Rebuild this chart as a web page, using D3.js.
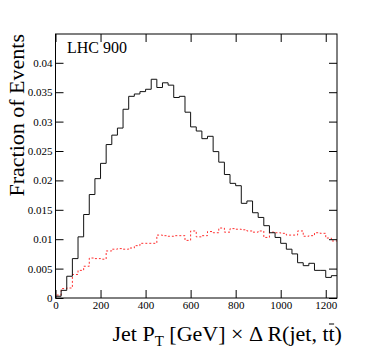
<!DOCTYPE html>
<html>
<head>
<meta charset="utf-8">
<script src="https://cdn.jsdelivr.net/npm/d3@7"></script>
<style>
  body { margin: 0; background: #fff; }
  text { font-family: "Liberation Serif", "Times New Roman", serif; }
</style>
</head>
<body>
<svg id="chart" width="374" height="351"></svg>
<script>
// histogram contents, 25 GeV bins from 0 to 1250
var binWidth = 25;
var seriesBlack = [0.0003, 0.0013, 0.0037, 0.0067, 0.0104, 0.0142, 0.0176, 0.0203, 0.0229, 0.0261,
                   0.0277, 0.0289, 0.0321, 0.0343, 0.0347, 0.0351, 0.0355, 0.0372, 0.0358, 0.0366,
                   0.0362, 0.0341, 0.0343, 0.0316, 0.0291, 0.0284, 0.0271, 0.0275, 0.0249, 0.0231,
                   0.0210, 0.0195, 0.0191, 0.0161, 0.0165, 0.0145, 0.0137, 0.0123, 0.0111, 0.0103,
                   0.0093, 0.0083, 0.0075, 0.0060, 0.0055, 0.0059, 0.0047, 0.0047, 0.0035, 0.0038];
var seriesRed = [0.0005, 0.0016, 0.0017, 0.0040, 0.0047, 0.0054, 0.0068, 0.0067, 0.0066, 0.0080,
                 0.0083, 0.0084, 0.0083, 0.0085, 0.0089, 0.0093, 0.0093, 0.0093, 0.0107, 0.0106,
                 0.0105, 0.0106, 0.0106, 0.0098, 0.0114, 0.0104, 0.0106, 0.0113, 0.0111, 0.0119,
                 0.0112, 0.0118, 0.0117, 0.0116, 0.0114, 0.0112, 0.0114, 0.0103, 0.0112, 0.0111,
                 0.0110, 0.0107, 0.0107, 0.0114, 0.0105, 0.0106, 0.0111, 0.0110, 0.0102, 0.0097];
var xTicks = [0, 200, 400, 600, 800, 1000, 1200];
var yTicks = [0, 0.005, 0.01, 0.015, 0.02, 0.025, 0.03, 0.035, 0.04];
var yTickLabels = ["0", "0.005", "0.01", "0.015", "0.02", "0.025", "0.03", "0.035", "0.04"];

var svg = d3.select("svg#chart");

var x = d3.scaleLinear().domain([0, 1250]).range([55.5, 337]);
var y = d3.scaleLinear().domain([0, 0.0449]).range([298, 34]);

function histPoints(vals) {
  var pts = [[x(0), y(0)]];
  vals.forEach(function(v, i) {
    pts.push([x(i * binWidth), y(v)]);
    pts.push([x((i + 1) * binWidth), y(v)]);
  });
  return pts;
}

var line = d3.line();

svg.append("path")
    .attr("d", line(histPoints(seriesRed)))
    .attr("fill", "none")
    .attr("stroke", "#ff3030")
    .attr("stroke-width", 1)
    .attr("stroke-dasharray", "2,2");

svg.append("path")
    .attr("d", line(histPoints(seriesBlack)))
    .attr("fill", "none")
    .attr("stroke", "#111")
    .attr("stroke-width", 1);

// axes, ticks drawn inward on all four sides
var gb = svg.append("g")
    .attr("transform", "translate(0," + y(0) + ")")
    .call(d3.axisBottom(x).tickValues(xTicks).tickSize(-8).tickSizeOuter(0).tickPadding(3)
      .tickFormat(d3.format("d")));
var gt = svg.append("g")
    .attr("transform", "translate(0," + y.range()[1] + ")")
    .call(d3.axisTop(x).tickValues(xTicks).tickSize(-8).tickSizeOuter(0).tickFormat(""));
var gl = svg.append("g")
    .attr("transform", "translate(" + x(0) + ",0)")
    .call(d3.axisLeft(y).tickValues(yTicks).tickSize(-8).tickSizeOuter(0).tickPadding(3)
      .tickFormat(function(d, i) { return yTickLabels[i]; }));
var gr = svg.append("g")
    .attr("transform", "translate(" + x.range()[1] + ",0)")
    .call(d3.axisRight(y).tickValues(yTicks).tickSize(-8).tickSizeOuter(0).tickFormat(""));

[gb, gt, gl, gr].forEach(function(g) {
  g.attr("font-family", '"Liberation Serif", serif').attr("font-size", 11);
  g.select(".domain").remove();
  g.selectAll("line").attr("stroke", "#000");
  g.selectAll("text").attr("fill", "#000");
});

// frame
svg.append("rect")
    .attr("x", x.range()[0])
    .attr("y", y.range()[1])
    .attr("width", x.range()[1] - x.range()[0])
    .attr("height", y(0) - y.range()[1])
    .attr("fill", "none")
    .attr("stroke", "#000")
    .attr("stroke-width", 1);

svg.append("text")
    .attr("x", 67)
    .attr("y", 52.5)
    .style("font-size", "16px")
    .text("LHC 900");

// axis titles
svg.append("text")
    .attr("transform", "translate(24,34) rotate(-90)")
    .attr("text-anchor", "end")
    .style("font-size", "22px")
    .text("Fraction of Events");

var xt = svg.append("text")
    .attr("x", 112.5)
    .attr("y", 341)
    .style("font-size", "22px");
xt.append("tspan").text("Jet P");
xt.append("tspan").attr("dy", 5).style("font-size", "15px").text("T");
xt.append("tspan").attr("dy", -5).text(" [GeV] \u00d7 \u0394 R(jet, tt)");

var n = xt.node().getNumberOfChars();
var ext = xt.node().getExtentOfChar(n - 2);
svg.append("line")
    .attr("x1", ext.x + 0.5)
    .attr("x2", ext.x + ext.width - 0.5)
    .attr("y1", ext.y + 3)
    .attr("y2", ext.y + 3)
    .attr("stroke", "#000")
    .attr("stroke-width", 1);
</script>
</body>
</html>
